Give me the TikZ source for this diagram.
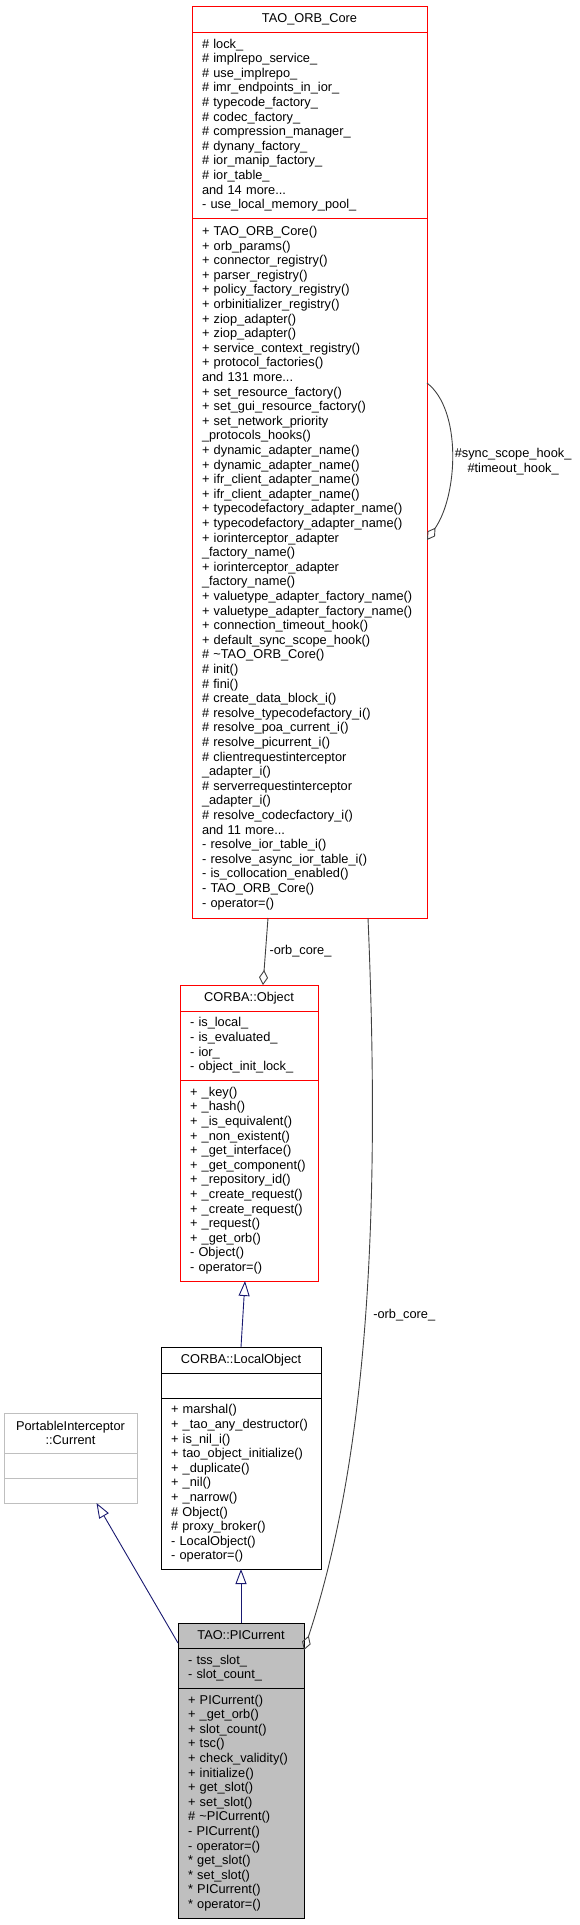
\documentclass[tikz,border=0pt]{standalone}
\usepackage{fontspec}
\setmainfont{Liberation Sans}
\usepackage{tikz}
\usetikzlibrary{positioning,arrows.meta,calc}

\definecolor{grey25}{HTML}{404040}
\definecolor{grey75}{HTML}{BFBFBF}
\definecolor{navyline}{HTML}{191970}

\begin{document}
\begin{tikzpicture}[
			x=1pt, y=-1pt,
			every node/.style={
				font=\fontsize{12.8}{14.6}\selectfont,
				outer sep=0pt,
				inner ysep=0pt
			},
			title/.style={
				draw,
				line width=0.9pt,
				align=center,
				inner xsep=10pt,
				minimum height=26pt
			},
			part/.style={
				draw,
				line width=0.9pt,
				align=left,
				inner xsep=10pt
			},
			edgelabel/.style={text=black},
			aggr/.style={grey25,line width=0.9pt,-{Diamond[open,length=15pt,width=9pt]}},
			inherit/.style={navyline,line width=0.9pt,-{Triangle[open,length=15pt,width=11pt]}}
			]
			
			\useasboundingbox (0,0) rectangle (580,1925);
			
			% TAO_ORB_Core
			\node[title,draw=red,text width=215pt,anchor=north] (orbname) at (309.5,6) {TAO\_ORB\_Core};
			\node[part,draw=red,text width=215pt,minimum height=186pt,below=0pt of orbname] (orbattr)
			{\# lock\_\\ \# implrepo\_service\_\\ \# use\_implrepo\_\\ \# imr\_endpoints\_in\_ior\_\\
				\# typecode\_factory\_\\ \# codec\_factory\_\\ \# compression\_manager\_\\ \# dynany\_factory\_\\
				\# ior\_manip\_factory\_\\ \# ior\_table\_\\ and 14 more...\\ - use\_local\_memory\_pool\_};
			\node[part,draw=red,text width=215pt,minimum height=700pt,below=0pt of orbattr] (orbops)
			{+ TAO\_ORB\_Core()\\ + orb\_params()\\ + connector\_registry()\\ + parser\_registry()\\
				+ policy\_factory\_registry()\\ + orbinitializer\_registry()\\ + ziop\_adapter()\\ + ziop\_adapter()\\
				+ service\_context\_registry()\\ + protocol\_factories()\\ and 131 more...\\
				+ set\_resource\_factory()\\ + set\_gui\_resource\_factory()\\ + set\_network\_priority\\
				\_protocols\_hooks()\\ + dynamic\_adapter\_name()\\ + dynamic\_adapter\_name()\\
				+ ifr\_client\_adapter\_name()\\ + ifr\_client\_adapter\_name()\\
				+ typecodefactory\_adapter\_name()\\ + typecodefactory\_adapter\_name()\\
				+ iorinterceptor\_adapter\\ \_factory\_name()\\ + iorinterceptor\_adapter\\ \_factory\_name()\\
				+ valuetype\_adapter\_factory\_name()\\ + valuetype\_adapter\_factory\_name()\\
				+ connection\_timeout\_hook()\\ + default\_sync\_scope\_hook()\\ \# \textasciitilde TAO\_ORB\_Core()\\
				\# init()\\ \# fini()\\ \# create\_data\_block\_i()\\ \# resolve\_typecodefactory\_i()\\
				\# resolve\_poa\_current\_i()\\ \# resolve\_picurrent\_i()\\ \# clientrequestinterceptor\\
				\_adapter\_i()\\ \# serverrequestinterceptor\\ \_adapter\_i()\\ \# resolve\_codecfactory\_i()\\
				and 11 more...\\ - resolve\_ior\_table\_i()\\ - resolve\_async\_ior\_table\_i()\\
				- is\_collocation\_enabled()\\ - TAO\_ORB\_Core()\\ - operator=()};
			
			% CORBA::Object
			\node[title,draw=red,text width=118pt,anchor=north] (objname) at (249,985) {CORBA::Object};
			\node[part,draw=red,text width=118pt,minimum height=69pt,below=0pt of objname] (objattr)
			{- is\_local\_\\ - is\_evaluated\_\\ - ior\_\\ - object\_init\_lock\_};
			\node[part,draw=red,text width=118pt,minimum height=201pt,below=0pt of objattr] (objops)
			{+ \_key()\\ + \_hash()\\ + \_is\_equivalent()\\ + \_non\_existent()\\ + \_get\_interface()\\
				+ \_get\_component()\\ + \_repository\_id()\\ + \_create\_request()\\ + \_create\_request()\\
				+ \_request()\\ + \_get\_orb()\\ - Object()\\ - operator=()};
			
			% CORBA::LocalObject
			\node[title,text width=140pt,anchor=north] (loname) at (241,1347) {CORBA::LocalObject};
			\node[part,text width=140pt,minimum height=25pt,below=0pt of loname] (loattr) {};
			\node[part,text width=140pt,minimum height=171pt,below=0pt of loattr] (loops)
			{+ marshal()\\ + \_tao\_any\_destructor()\\ + is\_nil\_i()\\ + tao\_object\_initialize()\\
				+ \_duplicate()\\ + \_nil()\\ + \_narrow()\\ \# Object()\\ \# proxy\_broker()\\
				- LocalObject()\\ - operator=()};
			
			% PortableInterceptor::Current
			\node[title,draw=grey75,text width=113pt,minimum height=40pt,anchor=north] (curname) at (70.5,1413)
			{PortableInterceptor\\ ::Current};
			\node[part,draw=grey75,text width=113pt,minimum height=25pt,below=0pt of curname] (curattr) {};
			\node[part,draw=grey75,text width=113pt,minimum height=25pt,below=0pt of curattr] (curops) {};
			
			% TAO::PICurrent
			\node[title,fill=grey75,text width=106pt,minimum height=25pt,anchor=north] (pcname) at (241,1623) {TAO::PICurrent};
			\node[part,fill=grey75,text width=106pt,minimum height=40pt,below=0pt of pcname] (pcattr)
			{- tss\_slot\_\\ - slot\_count\_};
			\node[part,fill=grey75,text width=106pt,minimum height=230pt,below=0pt of pcattr] (pcops)
			{+ PICurrent()\\ + \_get\_orb()\\ + slot\_count()\\ + tsc()\\ + check\_validity()\\ + initialize()\\
				+ get\_slot()\\ + set\_slot()\\ \# \textasciitilde PICurrent()\\ - PICurrent()\\ - operator=()\\
				{*} get\_slot()\\ {*} set\_slot()\\ {*} PICurrent()\\ {*} operator=()};
			
			% connectors
			\draw[aggr] ($(orbops.north east)+(0,165)$) .. controls +(35,27) and +(31,-45) .. ($(orbops.north east)+(0,322)$)
			node[edgelabel,pos=0.5,right,align=center,inner xsep=3pt,yshift=-7pt] {\#sync\_scope\_hook\_\\ \#timeout\_hook\_};
			\draw[aggr] ($(orbops.south west)+(76,0)$) -- node[edgelabel,right,inner xsep=4pt] {-orb\_core\_} ($(objname.north west)+(83,0)$);
			\draw[aggr] ($(orbops.south west)+(176,0)$) .. controls +(12,282) and +(66,-200) .. ($(pcattr.north east)+(0,2)$)
			node[edgelabel,pos=0.5,right,inner xsep=8pt] {-orb\_core\_};
			
			\draw[inherit] (loname.north) -- ($(objops.south)+(-4,0)$);
			\draw[inherit] (pcname.north) -- (loops.south);
			\draw[inherit] ($(pcname.south west)+(0,-5)$) -- ($(curops.south)+(26,0)$);
			
		\end{tikzpicture}
\end{document}
